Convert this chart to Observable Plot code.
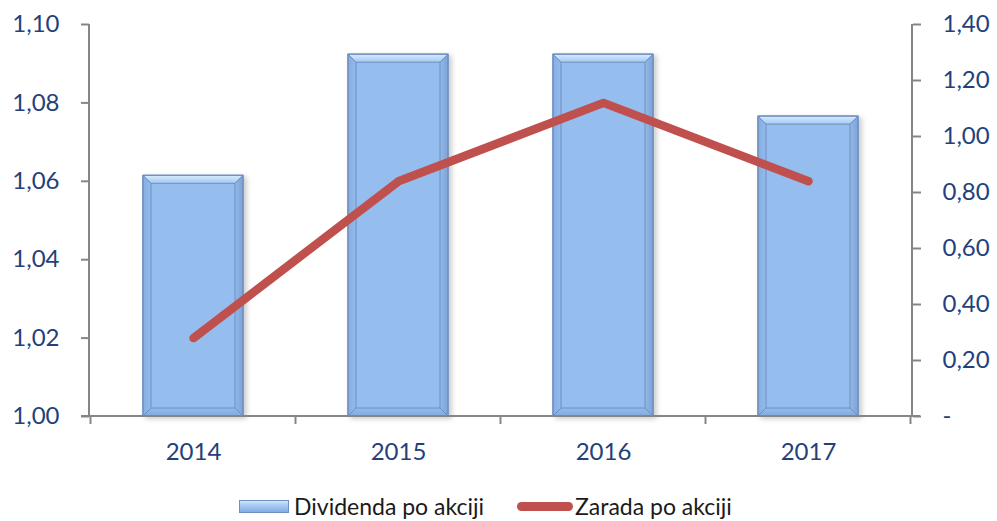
<!DOCTYPE html>
<html><head><meta charset="utf-8">
<script src="https://cdn.jsdelivr.net/npm/d3@7"></script>
<script src="https://cdn.jsdelivr.net/npm/@observablehq/plot@0.6"></script>
<style>
body{margin:0;background:#fff;font-family:Lato,"Open Sans",sans-serif}
#wrap{position:relative;width:997px;height:521px;overflow:hidden}
#chart{position:absolute;left:0;top:0}
.lg{position:absolute;font-size:23px;color:#1a1a1a;line-height:1;white-space:nowrap}
.sw1{position:absolute;left:239px;top:500px;width:48px;height:11px;border:1px solid #6E8FC0;
 background:linear-gradient(#D3E8FC 0,#A9CDF4 35%,#93BBEC 70%,#86ADE0 100%)}
.sw2{position:absolute;left:517px;top:502px;width:56px;height:9px;border-radius:5px;background:#C0504D}
</style></head><body>
<div id="wrap"><div id="chart"></div>
<div class="sw1"></div><div class="lg" id="l1" style="left:294px;top:495px"></div>
<div class="sw2"></div><div class="lg" id="l2" style="left:575px;top:495px"></div>
</div>
<script>
const years = ["2014", "2015", "2016", "2017"];
const dividenda = [1.0614, 1.0923, 1.0923, 1.0765];   // left axis
const zarada = [0.28, 0.84, 1.12, 0.84];               // right axis
const leftTicks = [1.00, 1.02, 1.04, 1.06, 1.08, 1.10];
const rightTicks = [0, 0.2, 0.4, 0.6, 0.8, 1.0, 1.2, 1.4];
const seriesNames = ["Dividenda po akciji", "Zarada po akciji"];

const yMin = 1.00, yMax = 1.10, rMax = 1.40;
const toLeft = v => yMin + v / rMax * (yMax - yMin);
const fromLeft = v => (v - yMin) / (yMax - yMin) * rMax;
const fmt = v => v.toFixed(2).replace(".", ",");
const rows = years.map((y, i) => ({year: y, div: dividenda[i], zar: toLeft(zarada[i])}));

const textColor = "#243F7A", axisColor = "#868686";

const plot = Plot.plot({
  width: 997, height: 470,
  marginLeft: 89, marginRight: 85, marginTop: 24, marginBottom: 54,
  style: {fontFamily: "Lato, 'Open Sans', sans-serif", fontSize: "24px", background: "white", overflow: "visible"},
  x: {domain: years, paddingInner: 0.51, paddingOuter: 0.255},
  y: {domain: [yMin, yMax]},
  marks: [
    Plot.barY(rows, {x: "year", y1: () => yMin, y2: "div", fill: "#95BDEE", stroke: "#6E8FC0", strokeWidth: 1}),
    Plot.lineY(rows, {x: "year", y: "zar", stroke: "#C0504D", strokeWidth: 8.5, strokeLinecap: "round", strokeLinejoin: "round"}),
    Plot.axisY(leftTicks, {anchor: "left", tickSize: 8, tickPadding: 22, tickFormat: fmt, stroke: axisColor, strokeWidth: 2, fill: textColor, label: null}),
    Plot.axisY(rightTicks.map(toLeft), {anchor: "right", tickSize: 8, tickPadding: 22,
      tickFormat: v => Math.abs(fromLeft(v)) < 1e-9 ? "-" : fmt(fromLeft(v)), stroke: axisColor, strokeWidth: 2, fill: textColor, label: null}),
    Plot.axisX({tickSize: 0, tickPadding: 26, fill: textColor, label: null})
  ]
});
document.getElementById("chart").appendChild(plot);
document.getElementById("l1").textContent = seriesNames[0];
document.getElementById("l2").textContent = seriesNames[1];

// post-process: bevel bars, axis lines, boundary ticks
const NS = "http://www.w3.org/2000/svg";
const mk = (tag, attrs, parent) => { const e = document.createElementNS(NS, tag); for (const k in attrs) e.setAttribute(k, attrs[k]); parent.appendChild(e); return e; };
const defs = mk("defs", {}, plot);
plot.insertBefore(defs, plot.firstChild);
const g1 = mk("linearGradient", {id: "topG", x1: 0, y1: 0, x2: 0, y2: 1}, defs);
mk("stop", {offset: "0", "stop-color": "#D8ECFD"}, g1);
mk("stop", {offset: "1", "stop-color": "#A3C8F2"}, g1);
const gl = mk("linearGradient", {id: "leftG", x1: 0, y1: 0, x2: 1, y2: 0}, defs);
mk("stop", {offset: "0", "stop-color": "#86ADE1"}, gl);
mk("stop", {offset: "1", "stop-color": "#93BBEC"}, gl);
const gr = mk("linearGradient", {id: "rightG", x1: 1, y1: 0, x2: 0, y2: 0}, defs);
mk("stop", {offset: "0", "stop-color": "#7EA3D6"}, gr);
mk("stop", {offset: "1", "stop-color": "#92B9EA"}, gr);
const gb = mk("linearGradient", {id: "botG", x1: 0, y1: 1, x2: 0, y2: 0}, defs);
mk("stop", {offset: "0", "stop-color": "#84AADD"}, gb);
mk("stop", {offset: "1", "stop-color": "#93BBEC"}, gb);
const f = mk("filter", {id: "sh", x: "-10%", y: "-10%", width: "130%", height: "130%"}, defs);
mk("feDropShadow", {dx: 3, dy: 2, stdDeviation: 2.5, "flood-color": "#000", "flood-opacity": 0.2}, f);

const barG = plot.querySelector('g[aria-label="bar"]');
barG.setAttribute("filter", "url(#sh)");
const rects = Array.from(barG.querySelectorAll("rect"));
for (const r of rects) {
  const x = +r.getAttribute("x"), y = +r.getAttribute("y"), w = +r.getAttribute("width"), h = +r.getAttribute("height");
  const b = 8;
  const grp = mk("g", {}, barG);
  const poly = (pts, fill) => mk("polygon", {points: pts.map(p => p.join(",")).join(" "), fill}, grp);
  poly([[x, y], [x + b, y + b], [x + b, y + h - b], [x, y + h]], "url(#leftG)");
  poly([[x + w, y], [x + w - b, y + b], [x + w - b, y + h - b], [x + w, y + h]], "url(#rightG)");
  poly([[x, y + h], [x + b, y + h - b], [x + w - b, y + h - b], [x + w, y + h]], "url(#botG)");
  poly([[x, y], [x + w, y], [x + w - b, y + b], [x + b, y + b]], "url(#topG)");
  mk("rect", {x, y, width: w, height: h, fill: "none", stroke: "#6E8FC0", "stroke-width": 1}, grp);
}

const xs = plot.scale("x"), ys = plot.scale("y");
const y0 = ys.apply(yMin), yTop = ys.apply(yMax);
const [xL, xR] = xs.range;
const axG = mk("g", {stroke: axisColor, "stroke-width": 2, fill: "none"}, plot);
mk("line", {x1: xL, x2: xL, y1: yTop, y2: y0}, axG);
mk("line", {x1: xR, x2: xR, y1: yTop, y2: y0}, axG);
mk("line", {x1: xL - 8, x2: xR + 8, y1: y0, y2: y0}, axG);
const gap = (xs.step - xs.bandwidth) / 2;
const bounds = years.map(yv => xs.apply(yv) - gap).concat([xs.apply(years[years.length - 1]) + xs.bandwidth + gap]);
for (const bx of bounds) mk("line", {x1: bx, x2: bx, y1: y0, y2: y0 + 8}, axG);
</script>
</body></html>
